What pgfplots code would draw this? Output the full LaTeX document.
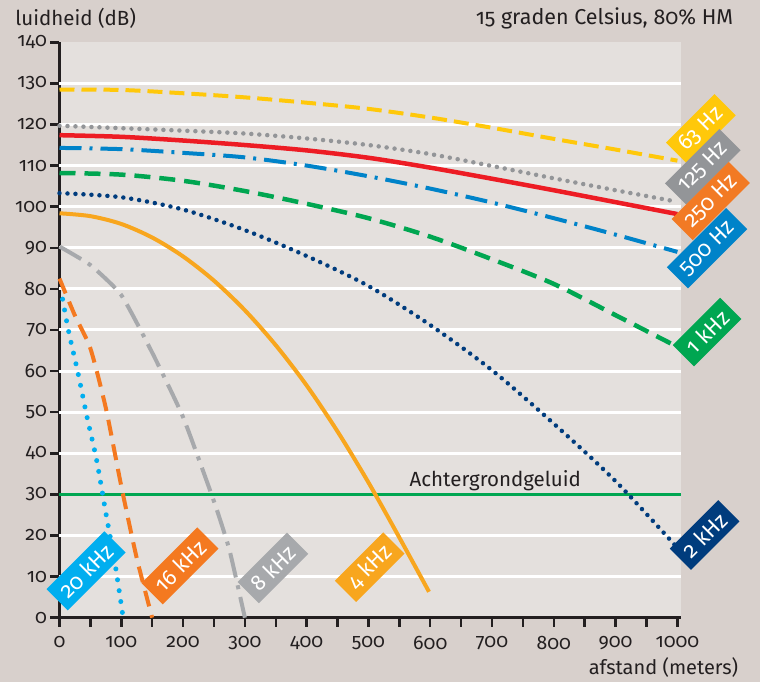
\documentclass[border=0pt]{standalone}
\usepackage{fontspec}
\setmainfont{Fira Sans}[Numbers=OldStyle]
\usepackage{pgfplots}
\pgfplotsset{compat=1.18}
\definecolor{outerbg}{RGB}{216,208,204}
\definecolor{innerbg}{RGB}{228,224,221}
\definecolor{axiscol}{RGB}{35,31,32}
\definecolor{textcol}{RGB}{35,31,32}
\definecolor{c63}{RGB}{255,200,10}
\definecolor{c125}{RGB}{147,149,152}
\definecolor{c250}{RGB}{237,28,36}
\definecolor{c250l}{RGB}{242,122,36}
\definecolor{c500}{RGB}{0,131,201}
\definecolor{c1k}{RGB}{0,166,81}
\definecolor{c2k}{RGB}{0,60,125}
\definecolor{c4k}{RGB}{248,166,30}
\definecolor{c8k}{RGB}{167,169,172}
\definecolor{c16k}{RGB}{244,121,32}
\definecolor{c20k}{RGB}{0,174,239}
\tikzset{lab/.style={rotate=45, text=white, font=\fontsize{22}{24}\selectfont, minimum height=30pt, inner xsep=8pt, inner ysep=2pt, anchor=center}}
\begin{document}
\begin{tikzpicture}
\path[use as bounding box, fill=outerbg] (-59.5pt,-64.3pt) rectangle (700.5pt,617.7pt);
\begin{axis}[
 scale only axis, width=621pt, height=575.4pt,
 xmin=0, xmax=1005, ymin=0, ymax=140,
 axis x line*=bottom, axis y line*=left,
 axis line style={line width=2.5pt, color=axiscol, -},
 xtick={0,100,...,1000}, minor xtick={50,150,...,950},
 ytick={0,10,...,140},
 tick align=outside, major tick length=9pt, minor tick length=9pt,
 tick style={line width=2.5pt, color=axiscol},
 axis background/.style={fill=innerbg},
 tick label style={font=\fontsize{19.5}{22}\selectfont, text=textcol},
 xticklabel shift=6pt,
 scaled ticks=false,
 /pgf/number format/assume math mode=true,
 /pgf/number format/1000 sep={},
 clip=false,
]
% grid lines
\pgfplotsinvokeforeach{10,20,...,130}{
 \draw[white, line width=3pt] (axis cs:0,#1) -- (axis cs:1005,#1);
}
% background
\addplot[c1k, line width=3pt] coordinates {(0,30) (1005,30)};
% 63 Hz
\addplot[c63, line width=4pt, dash pattern=on 15pt off 7pt, smooth] coordinates {
(0,128.5) (100,128.4) (200,127.6) (300,126.6) (400,125.3) (500,123.8) (600,121.7) (700,119.2) (800,116.5) (900,113.9) (1000,111.2)};
% 125 Hz
\addplot[c125, line width=4.5pt, line cap=round, dash pattern=on 0pt off 8pt, smooth] coordinates {
(0,119.7) (100,119.1) (200,118.5) (300,117.8) (400,116.6) (500,115.0) (600,112.8) (700,109.9) (800,106.9) (900,104.0) (1000,101.2)};
% 250 Hz
\addplot[c250, line width=4.5pt, smooth] coordinates {
(0,117.4) (100,117.0) (200,116.1) (300,115.0) (400,113.7) (500,111.9) (600,109.5) (700,106.8) (800,104.0) (900,101.1) (1000,98.2)};
% 500 Hz
\addplot[c500, line width=4pt, dash pattern=on 22pt off 8pt on 3pt off 8pt, smooth] coordinates {
(0,114.3) (100,114) (200,113.1) (300,112) (400,110) (500,107.4) (600,104.4) (700,101) (800,97.2) (900,93.2) (1000,89)};
% 1 kHz
\addplot[c1k, line width=4.5pt, dash pattern=on 16pt off 9pt, smooth] coordinates {
(0,108.2) (100,107.8) (200,106.3) (300,103.8) (400,100.7) (500,97.2) (600,92.7) (700,87.2) (800,81.2) (900,73.6) (1000,65.9)};
% 2 kHz
\addplot[c2k, line width=4.5pt, line cap=round, dash pattern=on 0pt off 8pt, smooth] coordinates {
(0,103.3) (100,102.3) (200,99.3) (300,94.3) (400,88) (500,80.7) (600,71.2) (700,60.2) (800,47.2) (900,33.2) (1000,17)};
% 4 kHz
\addplot[c4k, line width=4pt, smooth] coordinates {
(0,98.4) (50,97.7) (100,95.8) (150,92.5) (200,87.9) (250,82.0) (300,74.8) (350,66.3) (400,56.5) (450,45.3) (500,32.9) (550,19.5) (598,6.3)};
% 8 kHz
\addplot[c8k, line width=4pt, dash pattern=on 25pt off 8pt on 4pt off 8pt, smooth, tension=0.3] coordinates {
(0,90.3) (50,85.8) (100,78.5) (150,64.5) (200,48.8) (250,28.3) (275,16.5) (300,0)};
% 16 kHz
\addplot[c16k, line width=4pt, dash pattern=on 16pt off 9pt, smooth, tension=0.4] coordinates {
(0,82.5) (25,73.5) (50,65.5) (75,51) (100,32) (125,14.5) (150,0)};
% 20 kHz
\addplot[c20k, line width=5pt, line cap=round, dash pattern=on 0pt off 11pt, smooth] coordinates {
(5,77.5) (15,69.5) (30,59.5) (45,48.5) (60,38.4) (75,25.5) (90,13) (103,0)};
% texts
\node[anchor=base west, font=\fontsize{20.5}{22}\selectfont, text=textcol] at (axis cs:561,31.8) {Achtergrondgeluid};
\node[anchor=west, font=\fontsize{20.5}{22}\selectfont, text=textcol] at (axis cs:-77,145.9) {luidheid (dB)};
\node[anchor=east, font=\fontsize{21.5}{23}\selectfont, text=textcol] at (axis cs:1096,145.9) {15 graden Celsius, 80\% HM};
\node[anchor=base east, font=\fontsize{20}{22}\selectfont, text=textcol] at (axis cs:1104,-13.9) {afstand (meters)};
% labels
\node[lab, fill=c63] at (axis cs:1038,118.9) {63 Hz};
\node[lab, fill=c125] at (axis cs:1041,109.7) {125 Hz};
\node[lab, fill=c250l] at (axis cs:1054,101.4) {250 Hz};
\node[lab, fill=c500] at (axis cs:1048,89.9) {500 Hz};
\node[lab, fill=c1k] at (axis cs:1048,69.5) {1 kHz};
\node[lab, fill=c2k] at (axis cs:1044,20.1) {2 kHz};
\node[lab, fill=c20k] at (axis cs:43,11.4) {20 kHz};
\node[lab, fill=c16k] at (axis cs:195,12.6) {16 kHz};
\node[lab, fill=c8k] at (axis cs:345.5,12.1) {8 kHz};
\node[lab, fill=c4k] at (axis cs:502,12.3) {4 kHz};
\end{axis}
\end{tikzpicture}
\end{document}
